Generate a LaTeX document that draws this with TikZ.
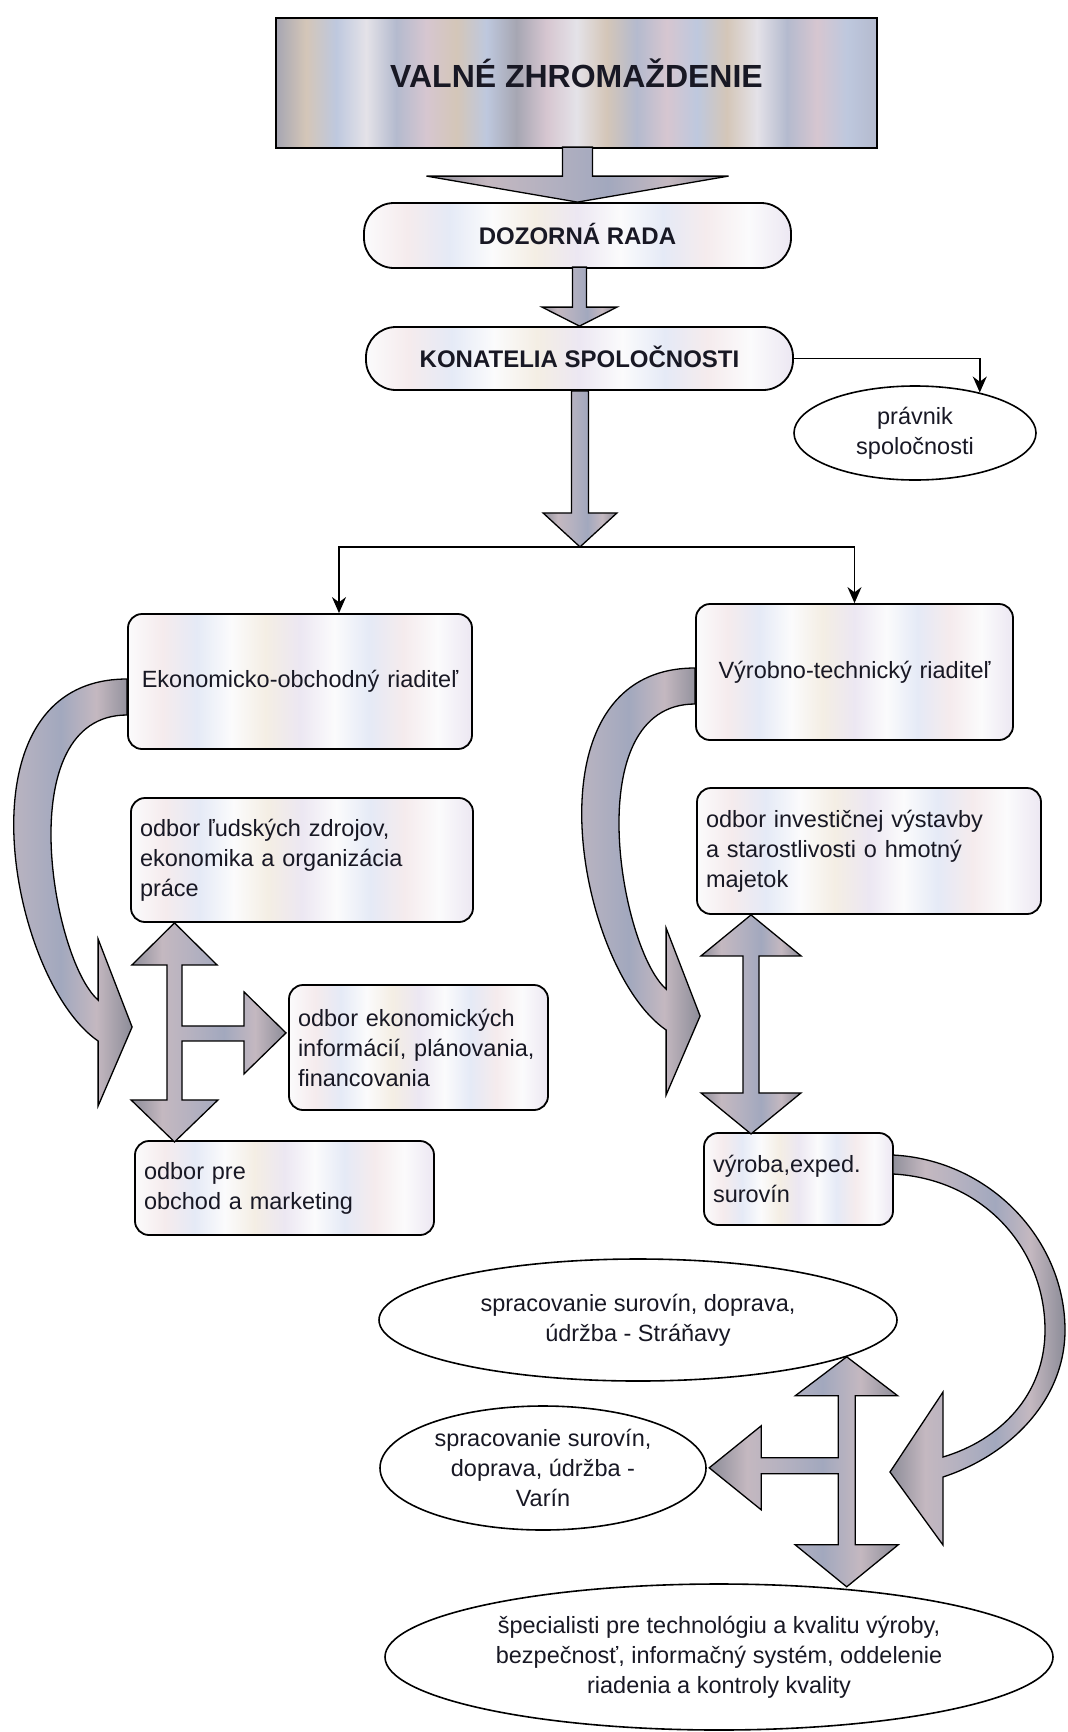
\documentclass[tikz,border=0pt]{standalone}
\usepackage{fontspec}
\setmainfont{Liberation Sans}
\usetikzlibrary{shapes.geometric,arrows.meta,calc}

% box foil colours
\definecolor{foilA}{RGB}{251,251,252}
\definecolor{foilB}{RGB}{236,231,242}
\definecolor{foilC}{RGB}{245,235,237}
\definecolor{foilD}{RGB}{229,234,246}
\definecolor{foilE}{RGB}{244,238,228}
% stripes of the top box
\definecolor{vzA}{RGB}{180,186,206}
\definecolor{vzB}{RGB}{212,198,184}
\definecolor{vzC}{RGB}{214,198,208}
\definecolor{vzD}{RGB}{190,200,222}
\definecolor{vzE}{RGB}{166,166,178}
\definecolor{vzF}{RGB}{228,226,232}
% block arrows
\definecolor{arrA}{RGB}{140,140,152}
\definecolor{arrB}{RGB}{180,177,192}
\definecolor{arrC}{RGB}{196,184,192}
\definecolor{arrD}{RGB}{162,168,190}
\definecolor{ink}{RGB}{24,24,36}

\pgfdeclarehorizontalshading{boxfoil}{100bp}{color(0bp)=(foilA); color(25bp)=(foilA); color(30bp)=(foilC); color(35bp)=(foilD); color(40bp)=(foilA); color(45bp)=(foilE); color(50bp)=(foilB); color(55bp)=(foilA); color(60bp)=(foilD); color(65bp)=(foilC); color(70bp)=(foilA); color(75bp)=(foilB); color(100bp)=(foilB)}
\pgfdeclarehorizontalshading{vzstripes}{100bp}{color(0bp)=(vzE); color(25bp)=(vzE); color(27.5bp)=(vzB); color(30bp)=(vzD); color(32.5bp)=(vzF); color(35bp)=(vzA); color(37.5bp)=(vzC); color(40bp)=(vzB); color(42.5bp)=(vzD); color(45bp)=(vzE); color(47.5bp)=(vzC); color(50bp)=(vzF); color(52.5bp)=(vzB); color(55bp)=(vzA); color(57.5bp)=(vzC); color(60bp)=(vzD); color(62.5bp)=(vzB); color(65bp)=(vzF); color(67.5bp)=(vzA); color(70bp)=(vzC); color(72.5bp)=(vzD); color(75bp)=(vzA); color(100bp)=(vzA)}
\pgfdeclarehorizontalshading{arrowmetal}{100bp}{color(0bp)=(arrA); color(25bp)=(arrA); color(35bp)=(arrC); color(45bp)=(arrB); color(55bp)=(arrD); color(65bp)=(arrC); color(75bp)=(arrA); color(100bp)=(arrA)}

\newcommand{\txtfont}{\fontsize{23.5}{30}\selectfont}
\newcommand{\capsfont}{\fontsize{24}{30}\selectfont\bfseries}
\newcommand{\vzfont}{\fontsize{32}{36}\selectfont\bfseries}

\begin{document}
\begin{tikzpicture}[x=1pt,y=-1pt,
    vzbox/.style={draw, line width=1.8pt, shade, shading=vzstripes, minimum width=601pt, minimum height=130pt, font=\vzfont, text=ink, text height=24pt, text depth=16pt},
    pill/.style={draw, line width=1.8pt, rounded corners=30pt, shade, shading=boxfoil, font=\capsfont, text=ink, text height=18pt, text depth=0pt},
    unit/.style={draw, line width=1.8pt, rounded corners=14pt, shade, shading=boxfoil, inner xsep=9pt, inner ysep=0pt, font=\txtfont, text=ink, align=left},
    oval/.style={draw, ellipse, line width=1.6pt, fill=white, inner sep=0pt, font=\txtfont, text=ink, align=center},
    blockarrow/.style={draw, line width=1.3pt, line join=miter, shade, shading=arrowmetal},
    link/.style={line width=1.6pt, -{Stealth[length=16pt,width=14pt]}},
    bendarrow/.pic={
      \path[blockarrow] (0,-18) .. controls (-174,-18) and (-118,283) .. (-29,344)
        -- (-29,409) -- (5,330) -- (-29,242) -- (-29,303)
        .. controls (-75,263) and (-118,18) .. (0,18) -- cycle;
    }]
  \path[use as bounding box, fill=white] (0,0) rectangle (1068,1732);

  % top of the company
  \node[vzbox] (vz) at (576.5,83) {VALNÉ ZHROMAŽDENIE};
  \node[pill, minimum width=427pt, minimum height=65pt] (doz) at (577.5,235.5) {DOZORNÁ RADA};
  \node[pill, minimum width=427pt, minimum height=63pt] (kon) at (579.5,358.5) {KONATELIA SPOLOČNOSTI};
  \node[oval, minimum width=242pt, minimum height=94pt] (prav) at (915,433) {právnik\\spoločnosti};

  % directors
  \node[unit, align=center, minimum width=344pt, minimum height=135pt, text width=326pt] (eko) at (300,681.5) {Ekonomicko-obchodný riaditeľ};
  \node[unit, align=center, minimum width=317pt, minimum height=136pt, text width=299pt] (vyrt) at (854.5,672) {Výrobno-technický riaditeľ};

  % departments
  \node[unit, minimum width=342pt, minimum height=124pt, text width=324pt] (lud) at (302,860) {odbor ľudských zdrojov,\\ekonomika a organizácia\\práce};
  \node[unit, minimum width=259pt, minimum height=125pt, text width=241pt] (ekon) at (418.5,1047.5) {odbor ekonomických\\informácií, plánovania,\\financovania};
  \node[unit, minimum width=299pt, minimum height=94pt, text width=281pt] (pre) at (284.5,1188) {odbor pre\\obchod a marketing};
  \node[unit, minimum width=344pt, minimum height=126pt, text width=326pt] (inv) at (869,851) {odbor investičnej výstavby\\a starostlivosti o hmotný\\majetok};
  \node[unit, minimum width=189pt, minimum height=92pt, text width=171pt] (vyroba) at (798.5,1179) {výroba,exped.\\surovín};

  % plants
  \node[oval, minimum width=518pt, minimum height=122pt] (stran) at (638,1320) {spracovanie surovín, doprava,\\údržba - Stráňavy};
  \node[oval, minimum width=326pt, minimum height=124pt] (varin) at (543,1468) {spracovanie surovín,\\doprava, údržba -\\Varín};
  \node[oval, minimum width=668pt, minimum height=146pt] (spec) at (719,1657) {špecialisti pre technológiu a kvalitu výroby,\\bezpečnosť, informačný systém, oddelenie\\riadenia a kontroly kvality};

  % block arrows down the middle
  \path[blockarrow] (doz.north) -- ++(151,-26) -- ++(-136,0) -- ++(0,-29) -- ++(-30,0) -- ++(0,29) -- ++(-136,0) -- cycle;
  \path[blockarrow] (kon.north) -- ++(37.5,-19) -- ++(-30.5,0) -- ++(0,-40) -- ++(-14,0) -- ++(0,40) -- ++(-30.5,0) -- cycle;
  \coordinate (split) at ($(kon.south)+(0.5,156)$);
  \path[blockarrow] (split) -- ++(37,-34) -- ++(-28.5,0) -- ++(0,-122) -- ++(-17,0) -- ++(0,122) -- ++(-28.5,0) -- cycle;

  \draw[link] (kon.east) -| (prav.32);
  \draw[link] (split) -| ([xshift=39pt]eko.north);
  \draw[link] (split) -| (vyrt.north);

  % bent arrows from the directors
  \pic at ($(eko.west)+(0,15.5)$) {bendarrow};
  \pic at ($(vyrt.west)+(0,14)$) {bendarrow};
  \path[blockarrow] (893,1155) .. controls (990,1160) and (1065,1240) .. (1065,1330)
    .. controls (1065,1400) and (1010,1455) .. (943,1477)
    -- (943,1545) -- (890,1472) -- (943,1392) -- (943,1457)
    .. controls (1000,1440) and (1045,1395) .. (1045,1330)
    .. controls (1045,1250) and (985,1179) .. (893,1174) -- cycle;

  % cross arrows between departments
  \path[blockarrow] ($(lud.south)+(-127.5,0)$) -- ++(42.5,42) -- ++(-35,0) -- ++(0,61) -- ++(62,0) -- ++(0,-34)
    -- ++(42,41) -- ++(-42,41) -- ++(0,-33) -- ++(-62,0) -- ++(0,59) -- ++(36,0) -- ++(-43.5,42)
    -- ++(-43.5,-42) -- ++(36,0) -- ++(0,-135) -- ++(-35,0) -- cycle;
  \path[blockarrow] ($(inv.south)+(-118,0)$) -- ++(50,41) -- ++(-42,0) -- ++(0,137) -- ++(42,0) -- ++(-50,41)
    -- ++(-50,-41) -- ++(42,0) -- ++(0,-137) -- ++(-42,0) -- cycle;
  \path[blockarrow] (stran.-10) -- ++(51,39) -- ++(-42.5,0) -- ++(0,149) -- ++(43,0) -- ++(-51.5,42)
    -- ++(-51.5,-42) -- ++(43,0) -- ++(0,-71) -- ++(-77,0) -- ++(0,36) -- ++(-52,-42) -- ++(52,-42)
    -- ++(0,32) -- ++(77,0) -- ++(0,-62) -- ++(-43,0) -- cycle;
\end{tikzpicture}
\end{document}
